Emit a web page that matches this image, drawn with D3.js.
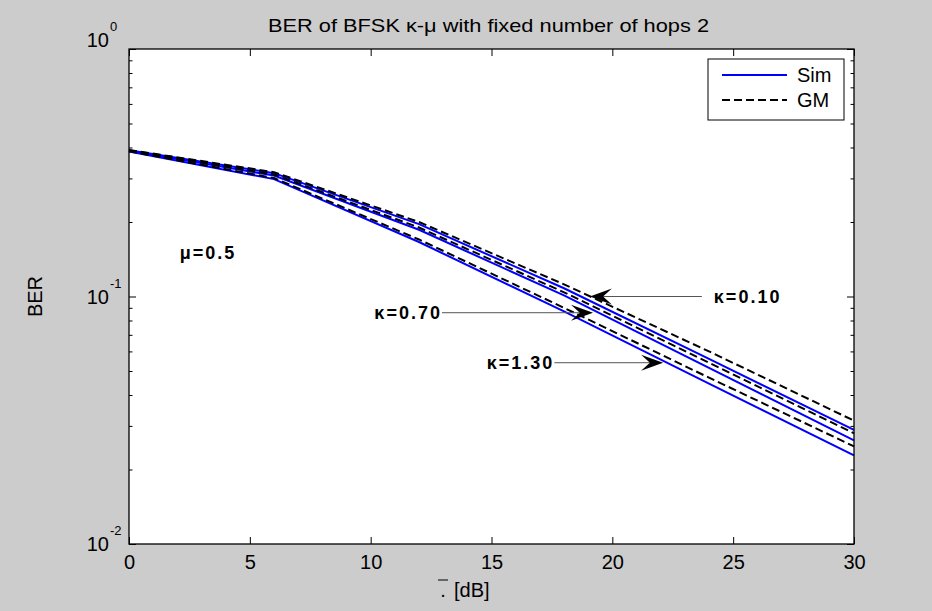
<!DOCTYPE html>
<html>
<head>
<meta charset="utf-8">
<script src="https://cdn.jsdelivr.net/npm/d3@7"></script>
<style>
  body { margin: 0; background: #cccccc; }
  svg text { font-family: "Liberation Sans", Arial, Helvetica, sans-serif; fill: #000; }
</style>
</head>
<body>
<div id="chart"></div>
<script>
// BER of BFSK over kappa-mu fading, 2 hops: simulation vs GM approximation

// Average SNR values (dB) where the curves were evaluated
var snrDb = [0, 6, 12, 18, 24, 30];

// Simulated BER, one array per kappa
var simK010 = [0.390, 0.315, 0.196, 0.108, 0.0560, 0.0289];
var simK070 = [0.388, 0.308, 0.186, 0.101, 0.0515, 0.0262];
var simK130 = [0.385, 0.298, 0.166, 0.087, 0.0445, 0.0228];

// GM approximation
var gmK010 = [0.391, 0.318, 0.200, 0.112, 0.0600, 0.0315];
var gmK070 = [0.389, 0.311, 0.190, 0.104, 0.0540, 0.0280];
var gmK130 = [0.386, 0.301, 0.170, 0.090, 0.0470, 0.0248];

// Axis ticks
var xTicks = [0, 5, 10, 15, 20, 25, 30];
var yMajor = [0.01, 0.1, 1];
var yMajorExp = ["-2", "-1", "0"];
var yMinor = [0.02, 0.03, 0.04, 0.05, 0.06, 0.07, 0.08, 0.09,
              0.2, 0.3, 0.4, 0.5, 0.6, 0.7, 0.8, 0.9];

// Annotation labels with arrow tail / tip in data units
var kappaText = ["\u03ba=0.10", "\u03ba=0.70", "\u03ba=1.30"];
var kappaTextX = [24.2, 12.95, 17.6];
var kappaTipX = [19.07, 19.2, 22.1];
var kappaY = [0.1, 0.086, 0.054];

var legendNames = ["Sim", "GM"];

var width = 932, height = 611;
var margin = {top: 49, right: 78, bottom: 67, left: 129};

var x = d3.scaleLinear().domain([0, 30]).range([margin.left, width - margin.right]);
var y = d3.scaleLog().domain([0.01, 1]).range([height - margin.bottom, margin.top]);

var svg = d3.select("#chart").append("svg")
  .attr("width", width)
  .attr("height", height);

// figure background and white axes area
svg.append("rect")
  .attr("width", width).attr("height", height)
  .attr("fill", "#cccccc");
svg.append("rect")
  .attr("x", x(0)).attr("y", y(1))
  .attr("width", x(30) - x(0)).attr("height", y(0.01) - y(1))
  .attr("fill", "#ffffff");

// curves
var line = d3.line()
  .x(function(d, i) { return x(snrDb[i]); })
  .y(function(d) { return y(d); });

[simK010, simK070, simK130].forEach(function(s) {
  svg.append("path")
    .datum(s)
    .attr("fill", "none")
    .attr("stroke", "#0000ff")
    .attr("stroke-width", 2)
    .attr("d", line);
});
[gmK010, gmK070, gmK130].forEach(function(s) {
  svg.append("path")
    .datum(s)
    .attr("fill", "none")
    .attr("stroke", "#000000")
    .attr("stroke-width", 2)
    .attr("stroke-dasharray", "8,4")
    .attr("d", line);
});

// axes, MATLAB style: ticks inward on all four sides
function styleAxis(g) {
  g.select(".domain").remove();
  g.selectAll(".tick line").attr("stroke", "#000");
}

svg.append("g")
  .attr("transform", "translate(0," + y(0.01) + ")")
  .call(d3.axisBottom(x).tickValues(xTicks).tickSizeInner(-7).tickSizeOuter(0).tickPadding(11))
  .call(styleAxis)
  .selectAll("text")
  .style("font-size", "20px");

svg.append("g")
  .attr("transform", "translate(0," + y(1) + ")")
  .call(d3.axisTop(x).tickValues(xTicks).tickSizeInner(-7).tickSizeOuter(0).tickFormat(""))
  .call(styleAxis);

svg.append("g")
  .attr("transform", "translate(" + x(0) + ",0)")
  .call(d3.axisLeft(y).tickValues(yMajor).tickSizeInner(-7).tickSizeOuter(0).tickFormat(""))
  .call(styleAxis);
svg.append("g")
  .attr("transform", "translate(" + x(0) + ",0)")
  .call(d3.axisLeft(y).tickValues(yMinor).tickSizeInner(-3.5).tickSizeOuter(0).tickFormat(""))
  .call(styleAxis);
svg.append("g")
  .attr("transform", "translate(" + x(30) + ",0)")
  .call(d3.axisRight(y).tickValues(yMajor).tickSizeInner(-7).tickSizeOuter(0).tickFormat(""))
  .call(styleAxis);
svg.append("g")
  .attr("transform", "translate(" + x(30) + ",0)")
  .call(d3.axisRight(y).tickValues(yMinor).tickSizeInner(-3.5).tickSizeOuter(0).tickFormat(""))
  .call(styleAxis);

// y tick labels as 10^n
yMajor.forEach(function(v, i) {
  var yy = y(v) + (v === 1 ? -9 : 0);
  svg.append("text")
    .attr("x", x(0) - 20).attr("y", yy)
    .attr("dy", "0.36em")
    .attr("text-anchor", "end")
    .style("font-size", "20px")
    .text("10");
  svg.append("text")
    .attr("x", x(0) - 19).attr("y", yy - 9)
    .attr("text-anchor", "start")
    .style("font-size", "13px")
    .text(yMajorExp[i]);
});

// box around the axes
svg.append("rect")
  .attr("x", x(0)).attr("y", y(1))
  .attr("width", x(30) - x(0)).attr("height", y(0.01) - y(1))
  .attr("fill", "none")
  .attr("stroke", "#000")
  .attr("stroke-width", 1.3);

// title and axis labels
svg.append("text")
  .attr("x", 268).attr("y", 32)
  .attr("textLength", 441)
  .attr("lengthAdjust", "spacingAndGlyphs")
  .style("font-size", "19px")
  .text("BER of BFSK \u03ba-\u03bc with fixed number of hops 2");

svg.append("text")
  .attr("transform", "translate(42," + y(0.1) + ") rotate(-90)")
  .attr("text-anchor", "middle")
  .style("font-size", "20px")
  .text("BER");

svg.append("text")
  .attr("x", 443).attr("y", 597)
  .attr("text-anchor", "middle")
  .style("font-size", "20px")
  .text(".");
svg.append("line")
  .attr("x1", 438).attr("x2", 448)
  .attr("y1", 580).attr("y2", 580)
  .attr("stroke", "#000").attr("stroke-width", 1);
svg.append("text")
  .attr("x", 454).attr("y", 597)
  .style("font-size", "20px")
  .text("[dB]");

// mu label
svg.append("text")
  .attr("x", x(2.1)).attr("y", y(0.15))
  .attr("dy", "0.36em")
  .style("font-size", "18px")
  .style("font-weight", "bold")
  .style("letter-spacing", "2px")
  .text("\u03bc=0.5");

// kappa annotations with arrows
var headLen = 22, headHalf = 8;
kappaText.forEach(function(t, i) {
  var yy = y(kappaY[i]);
  var tx = x(kappaTextX[i]);
  var tip = x(kappaTipX[i]);
  var rightSide = tx > tip;
  svg.append("text")
    .attr("x", tx).attr("y", yy)
    .attr("dy", "0.36em")
    .attr("text-anchor", rightSide ? "start" : "end")
    .style("font-size", "18px")
    .style("font-weight", "bold")
    .style("letter-spacing", "2px")
    .text(t);
  var tail = rightSide ? tx - 12 : tx;
  var dir = rightSide ? 1 : -1;
  svg.append("line")
    .attr("x1", tail).attr("x2", tip + dir * headLen * 0.6)
    .attr("y1", yy).attr("y2", yy)
    .attr("stroke", "#555").attr("stroke-width", 1);
  svg.append("path")
    .attr("d", "M" + tip + "," + yy +
      "L" + (tip + dir * headLen) + "," + (yy - headHalf) +
      "L" + (tip + dir * headLen * 0.6) + "," + yy +
      "L" + (tip + dir * headLen) + "," + (yy + headHalf) + "Z")
    .attr("fill", "#000");
});

// legend
var legend = svg.append("g");
legend.append("rect")
  .attr("x", 708).attr("y", 59)
  .attr("width", 136).attr("height", 61)
  .attr("fill", "#fff")
  .attr("stroke", "#000")
  .attr("stroke-width", 1);
legendNames.forEach(function(n, i) {
  var ly = 75 + i * 25;
  legend.append("line")
    .attr("x1", 722).attr("x2", 787)
    .attr("y1", ly).attr("y2", ly)
    .attr("stroke", i === 0 ? "#0000ff" : "#000")
    .attr("stroke-width", 2)
    .attr("stroke-dasharray", i === 0 ? null : "8,4");
  legend.append("text")
    .attr("x", 797).attr("y", ly)
    .attr("dy", "0.36em")
    .style("font-size", "20px")
    .text(n);
});
</script>
</body>
</html>
